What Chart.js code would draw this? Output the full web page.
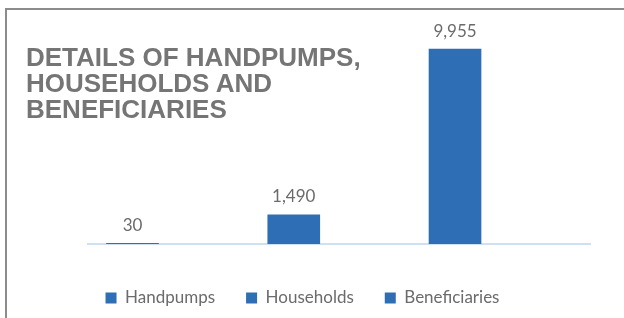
<!DOCTYPE html>
<html>
<head>
<meta charset="utf-8">
<script src="https://cdn.jsdelivr.net/npm/chart.js@4.4.1/dist/chart.umd.min.js"></script>
<style>
  html, body { margin: 0; padding: 0; background: #fff; }
  #wrap { position: relative; width: 624px; height: 318px; overflow: hidden; }
  #frame {
    position: absolute; left: 5px; top: 8px; width: 700px; height: 400px;
    border-left: 2px solid #8c8c8c; border-top: 2px solid #8c8c8c;
  }
  #title {
    position: absolute; left: 26px; top: 44px;
    font: bold 26px "Liberation Sans", Arial, sans-serif; line-height: 26px;
    color: #757575;
  }
  canvas { position: absolute; left: 0; top: 0; }
</style>
</head>
<body>
<div id="wrap">
  <div id="frame"></div>
  <canvas id="chart" width="624" height="318"></canvas>
  <div id="title">DETAILS OF HANDPUMPS,<br>HOUSEHOLDS AND<br>BENEFICIARIES</div>
</div>
<script>
const seriesNames = ['Handpumps', 'Households', 'Beneficiaries'];
const seriesValues = [30, 1490, 9955];
const yMax = 12000;

const barColor = '#2e6eb5';
const textColor = '#6b6b6b';

// numbers drawn above each bar
const valueLabels = {
  id: 'valueLabels',
  afterDatasetsDraw(chart) {
    const { ctx } = chart;
    ctx.save();
    ctx.font = '17px Lato';
    ctx.fillStyle = textColor;
    ctx.textAlign = 'center';
    ctx.textBaseline = 'middle';
    chart.data.datasets.forEach((ds, i) => {
      chart.getDatasetMeta(i).data.forEach((bar, j) => {
        ctx.fillText(ds.data[j].y.toLocaleString('en-US'), bar.x, bar.y - 18);
      });
    });
    ctx.restore();
  },
};

const ctx = document.getElementById('chart');

new Chart(ctx, {
  type: 'bar',
  data: {
    datasets: seriesNames.map((name, i) => ({
      label: name,
      data: [{ x: i, y: seriesValues[i] }],
      backgroundColor: barColor,
      borderWidth: 0,
      barThickness: 52,
      grouped: false,
    })),
  },
  options: {
    responsive: false,
    animation: false,
    devicePixelRatio: 1,
    layout: {
      padding: { top: 9, right: 19, bottom: 1.5, left: 0 },
    },
    plugins: {
      legend: {
        position: 'bottom',
        labels: {
          boxWidth: 11,
          boxHeight: 11,
          padding: 31,
          color: textColor,
          font: { family: 'Lato', size: 17 },
        },
      },
      tooltip: { enabled: false },
    },
    scales: {
      x: {
        type: 'linear',
        offset: false,
        min: -0.276,
        max: 2.837,
        grid: { display: false },
        ticks: { display: false },
        border: { display: true, color: '#cfe0f2', width: 2 },
        afterFit(scale) { scale.height = 14.5; },
      },
      y: {
        min: 0,
        max: yMax,
        grid: { display: false },
        ticks: { display: false },
        border: { display: false },
        afterFit(scale) { scale.width = 88; },
      },
      yRight: {
        position: 'right',
        grid: { display: false },
        ticks: { display: false },
        border: { display: false },
        afterFit(scale) { scale.width = 15; },
      },
    },
  },
  plugins: [valueLabels],
});
</script>
</body>
</html>
